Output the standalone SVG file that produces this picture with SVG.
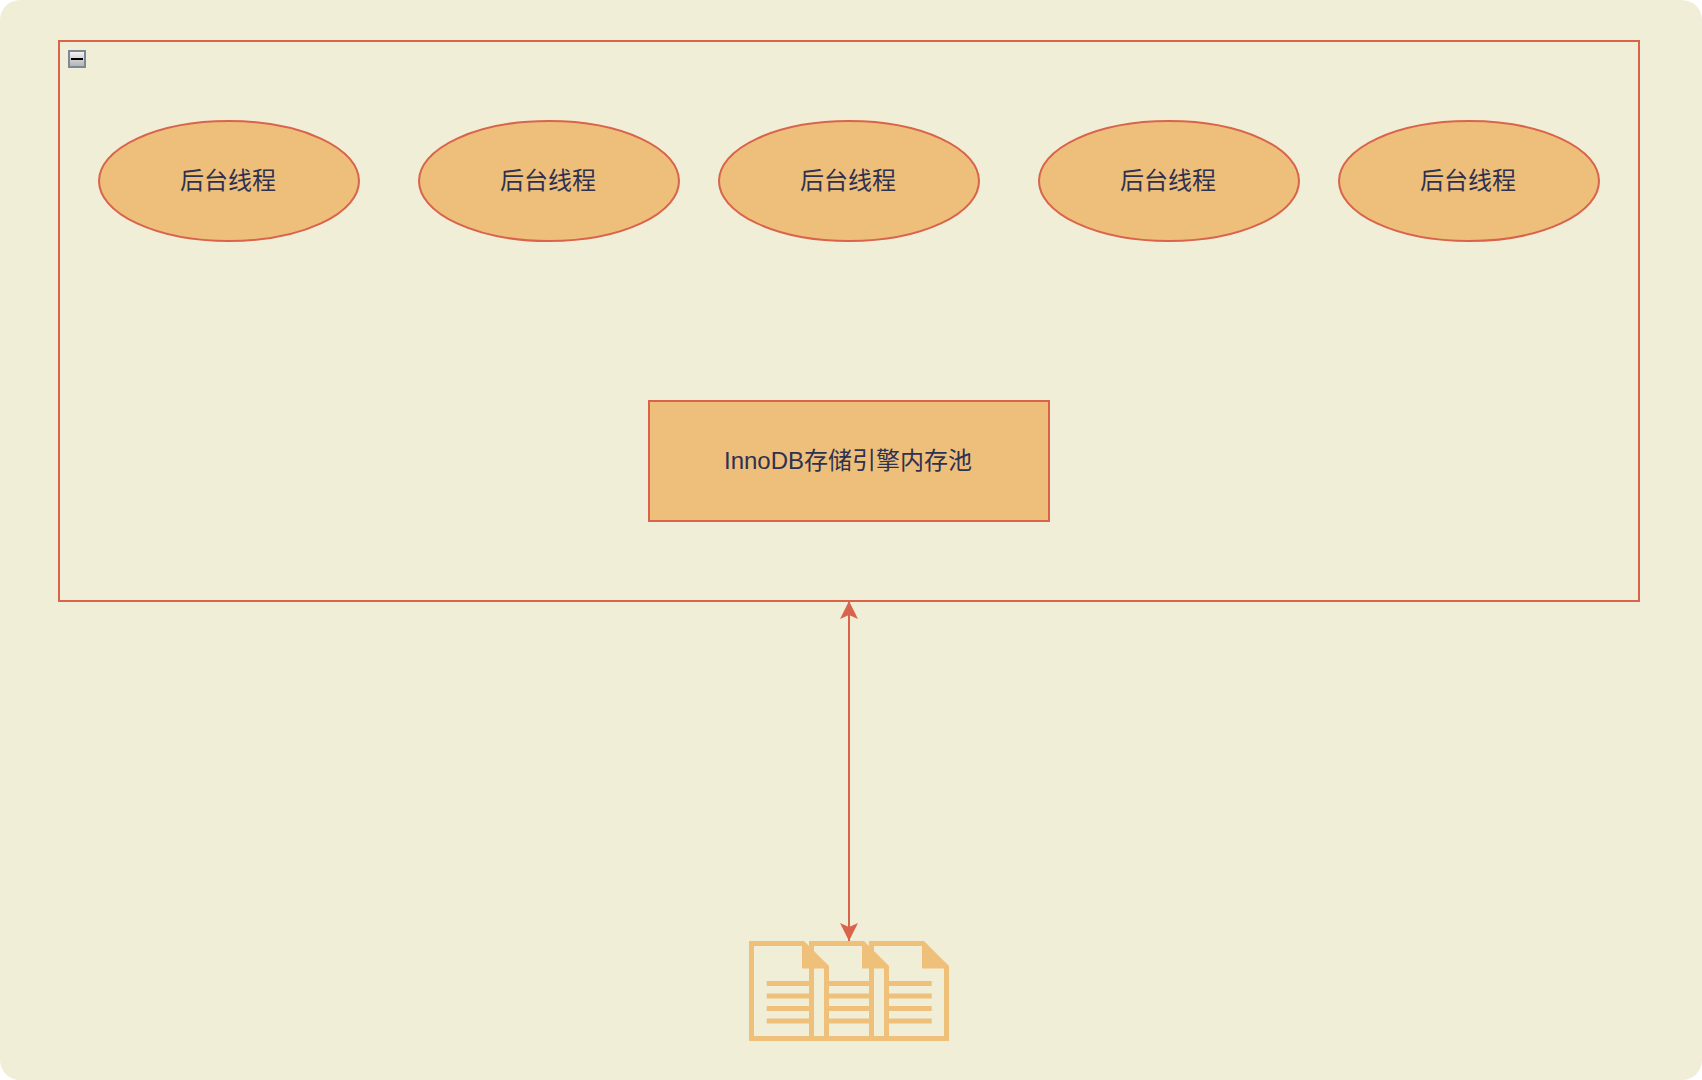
<svg xmlns="http://www.w3.org/2000/svg" width="1702" height="1080" viewBox="0 0 1702 1080">
  <style>
    .shape { fill: #EEBF7A; stroke: #D9634B; stroke-width: 2; }
    .label { font-family: "Liberation Sans", "Noto Sans CJK SC", sans-serif; font-size: 24px; fill: #2F3150; text-anchor: middle; }
    .doc { fill: none; stroke: #EFC079; stroke-width: 5; }
    .docfill { fill: #EFC079; }
    .wire { stroke: #D9634B; stroke-width: 2; fill: none; }
  </style>
  <defs>
    <linearGradient id="btn" x1="0" y1="0" x2="0" y2="1">
      <stop offset="0" stop-color="#F6F6F6"/>
      <stop offset="1" stop-color="#B0B0B0"/>
    </linearGradient>
    <marker id="head" viewBox="0 0 18 18" markerUnits="userSpaceOnUse" markerWidth="18" markerHeight="18" refX="18" refY="9" orient="auto-start-reverse">
      <path d="M18 9 L0 0 L4 9 L0 18 Z" fill="#D9634B"/>
    </marker>
    <g id="file">
      <path class="doc" d="M2.5 2.5 H53.96 L77.5 26.04 V97.5 H2.5 Z"/>
      <path class="docfill" d="M53 2.5 H54 L77.5 26 V27.5 H53 Z"/>
      <rect class="docfill" x="17.7" y="40" width="45" height="5"/>
      <rect class="docfill" x="17.7" y="52.5" width="45" height="5"/>
      <rect class="docfill" x="17.7" y="65" width="45" height="5"/>
      <rect class="docfill" x="17.7" y="77.5" width="45" height="5"/>
    </g>
  </defs>
  <rect id="background" x="0" y="0" width="1702" height="1080" rx="20" ry="20" fill="#F1EED8"/>
  <g id="container">
    <rect x="59" y="41" width="1580" height="560" fill="none" stroke="#D9634B" stroke-width="2"/>
    <rect x="69" y="51" width="16" height="16" fill="url(#btn)" stroke="#7C8797" stroke-width="2"/>
    <rect x="71" y="58" width="12" height="2" fill="#000"/>
  </g>
  <g id="thread-1"><ellipse class="shape" cx="229" cy="181" rx="130" ry="60"/><text class="label" x="228" y="189">后台线程</text></g>
  <g id="thread-2"><ellipse class="shape" cx="549" cy="181" rx="130" ry="60"/><text class="label" x="548" y="189">后台线程</text></g>
  <g id="thread-3"><ellipse class="shape" cx="849" cy="181" rx="130" ry="60"/><text class="label" x="848" y="189">后台线程</text></g>
  <g id="thread-4"><ellipse class="shape" cx="1169" cy="181" rx="130" ry="60"/><text class="label" x="1168" y="189">后台线程</text></g>
  <g id="thread-5"><ellipse class="shape" cx="1469" cy="181" rx="130" ry="60"/><text class="label" x="1468" y="189">后台线程</text></g>
  <g id="buffer-pool"><rect class="shape" x="649" y="401" width="400" height="120"/><text class="label" x="848" y="469">InnoDB存储引擎内存池</text></g>
  <g id="files">
    <use href="#file" x="749" y="941"/>
    <use href="#file" x="809" y="941"/>
    <use href="#file" x="869" y="941"/>
  </g>
  <g id="connectors">
    <line class="wire" x1="849" y1="601" x2="849" y2="941" marker-start="url(#head)" marker-end="url(#head)"/>
  </g>
</svg>
